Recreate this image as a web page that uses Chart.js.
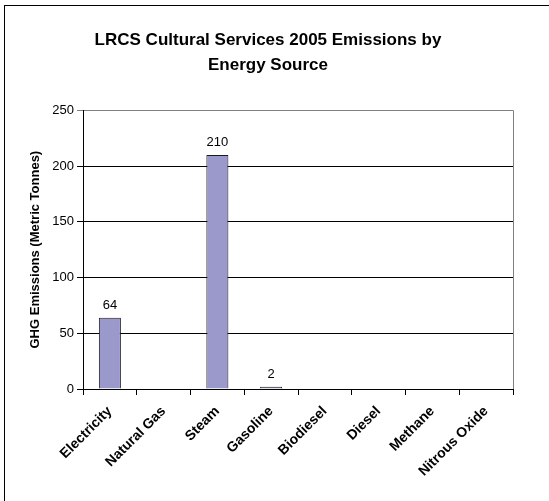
<!DOCTYPE html>
<html>
<head>
<meta charset="utf-8">
<script src="https://cdn.jsdelivr.net/npm/chart.js@4/dist/chart.umd.min.js"></script>
<style>
  html, body { margin: 0; padding: 0; background: #fff; }
  #wrap { position: relative; width: 549px; height: 501px; overflow: hidden; }
  /* outer frame, cropped at right and bottom like the source image */
  #frame { position: absolute; left: 4px; top: 5px; width: 700px; height: 700px;
           border-left: 1.5px solid #000; border-top: 1.5px solid #000; }
  #chart { position: absolute; left: 0; top: 0; }
</style>
</head>
<body>
<div id="wrap">
  <div id="frame"></div>
  <canvas id="chart" width="549" height="501"></canvas>
</div>
<script>
// ---- data ----
const categories = ['Electricity', 'Natural Gas', 'Steam', 'Gasoline', 'Biodiesel', 'Diesel', 'Methane', 'Nitrous Oxide'];
const emissions = [64, 0, 210, 2, 0, 0, 0, 0];
const titleLines = ['LRCS Cultural Services 2005 Emissions by', 'Energy Source'];
const yAxisTitle = 'GHG Emissions (Metric Tonnes)';
const yTicks = [0, 50, 100, 150, 200, 250];

const FONT = "'Liberation Sans', Arial, sans-serif";

// value labels above the bars (zeros skipped, like the original)
const valueLabels = {
  id: 'valueLabels',
  afterDatasetsDraw(chart) {
    const ctx = chart.ctx;
    const meta = chart.getDatasetMeta(0);
    ctx.save();
    ctx.font = '13px ' + FONT;
    ctx.fillStyle = '#000';
    ctx.textAlign = 'center';
    ctx.textBaseline = 'alphabetic';
    meta.data.forEach((bar, i) => {
      const v = emissions[i];
      if (!v) return;
      ctx.fillText(String(v), bar.x, bar.y - 9);
    });
    ctx.restore();
  }
};

// grey plot-area border (right side); top comes from the 250 gridline
const plotBorder = {
  id: 'plotBorder',
  beforeDatasetsDraw(chart) {
    const { ctx, chartArea: a } = chart;
    ctx.save();
    ctx.strokeStyle = '#808080';
    ctx.lineWidth = 1;
    ctx.beginPath();
    ctx.moveTo(Math.round(a.right) + 0.5, a.top);
    ctx.lineTo(Math.round(a.right) + 0.5, a.bottom);
    ctx.stroke();
    ctx.restore();
  }
};

new Chart(document.getElementById('chart'), {
  type: 'bar',
  data: {
    labels: categories,
    datasets: [{
      data: emissions,
      backgroundColor: '#9b98cb',
      borderColor: '#1a1a1a',
      borderWidth: 1,
      borderSkipped: 'start',
      categoryPercentage: 1,
      barPercentage: 0.41,
    }]
  },
  options: {
    responsive: false,
    animation: false,
    devicePixelRatio: 1,
    layout: { padding: { left: 23, right: 36, top: 0, bottom: 0 } },
    plugins: {
      legend: { display: false },
      tooltip: { enabled: false },
      title: {
        display: true,
        text: titleLines,
        color: '#000',
        font: { family: FONT, size: 17, weight: 'bold', lineHeight: 1.45 },
        padding: { top: 28, bottom: 33 },
      },
    },
    scales: {
      x: {
        afterFit(scale) { scale.height = 112; },
        grid: { offset: true, drawOnChartArea: false, drawTicks: true, tickLength: 6, color: '#000' },
        border: { color: '#000' },
        ticks: {
          autoSkip: false,
          minRotation: 45,
          maxRotation: 45,
          padding: 8,
          color: '#000',
          font: { family: FONT, size: 14, weight: 'bold' },
        },
      },
      y: {
        min: 0,
        max: 250,
        afterFit(scale) { scale.width = 60; },
        afterBuildTicks(scale) { scale.ticks = yTicks.map(v => ({ value: v })); },
        grid: {
          color: c => (c.tick && c.tick.value === 250 ? '#808080' : '#000'),
          tickLength: 6,
        },
        border: { color: '#000' },
        ticks: {
          padding: 3,
          color: '#000',
          font: { family: FONT, size: 13 },
        },
        title: {
          display: true,
          text: yAxisTitle,
          color: '#000',
          font: { family: FONT, size: 13, weight: 'bold' },
          padding: { top: 5, bottom: 0 },
        },
      },
    },
  },
  plugins: [valueLabels, plotBorder],
});
</script>
</body>
</html>
